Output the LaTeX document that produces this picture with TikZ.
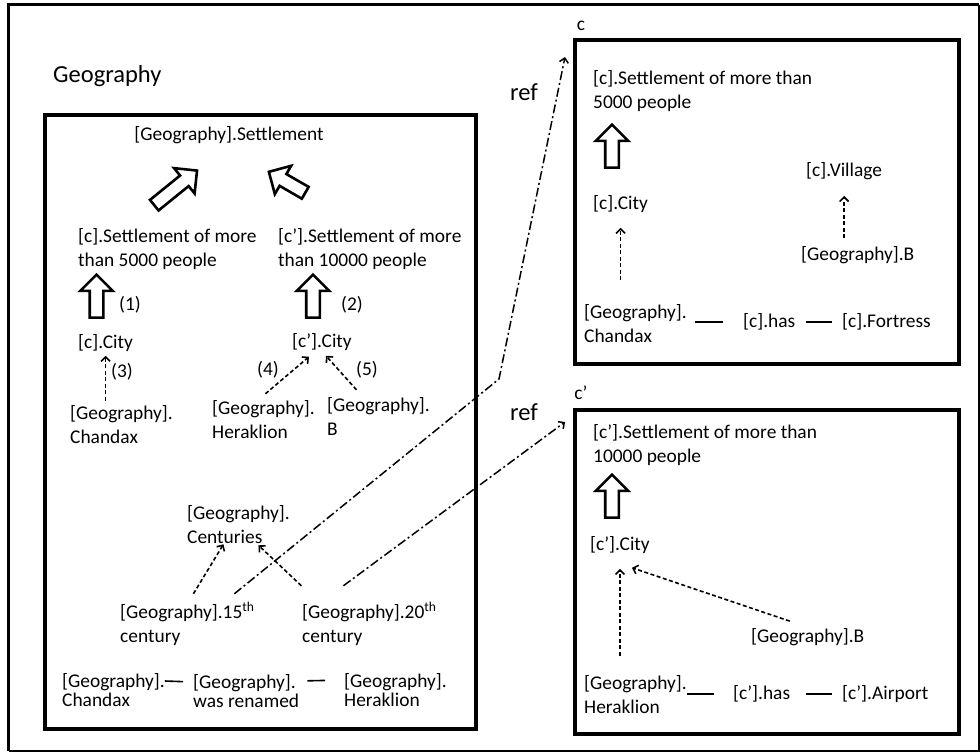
\documentclass[tikz,border=0pt]{standalone}
\usepackage{fontspec}
\setmainfont{Carlito}
\usetikzlibrary{arrows.meta,shapes.arrows}

\begin{document}
\begin{tikzpicture}[x=1pt,y=-1pt,>={Straight Barb[length=4.5pt,width=9pt]},
  txt/.style={anchor=west,align=left,inner sep=0pt,font=\fontsize{19.4pt}{24pt}\selectfont},
  tighttxt/.style={txt,font=\fontsize{19.4pt}{19.5pt}\selectfont},
  numtxt/.style={txt,anchor=center},
  biglabel/.style={anchor=west,inner sep=0pt,font=\fontsize{24.5pt}{29pt}\selectfont},
  boxframe/.style={draw,line width=3.5pt,anchor=north west,inner sep=0pt},
  fat/.style={single arrow,draw,line width=2.6pt,inner sep=0pt,inner ysep=5.5pt,
    single arrow head extend=9.5pt,single arrow tip angle=90,minimum height=#1},
  isaline/.style={->,line width=1.6pt,dash pattern=on 4pt off 2.5pt},
  reflink/.style={->,line width=1.5pt,dash pattern=on 9pt off 3pt on 2pt off 3pt},
  relline/.style={line width=1.6pt}]
  \useasboundingbox (0,0) rectangle (980,753);
  % outer frame
  \draw[line width=3pt] (8.5,751) -- (8.5,4.5) -- (979,4.5);
  \draw[line width=1.2pt] (979,4.5) -- (979,751) -- (8.5,751);

  % Geography
  \node[biglabel] (geolabel) at (53,76) {Geography};
  \node[boxframe,minimum width=431pt,minimum height=614pt] (geobox) at (43,113) {};
  \node[numtxt] (settle) at (229,135) {[Geography].Settlement};
  \node[fat=55pt,rotate=39] (upL) at (173,190) {};
  \node[fat=42pt,rotate=150] (upR) at (290,184) {};
  \node[txt] (csettle) at (78,249) {[c].Settlement of more\\than 5000 people};
  \node[txt] (cpsettle) at (278,249) {[c’].Settlement of more\\than 10000 people};
  \node[fat=43pt,rotate=90] (up1) at (96.5,299.5) {};
  \node[fat=43pt,rotate=90] (up2) at (313,299.5) {};
  \node[numtxt] (n1) at (130,305) {(1)};
  \node[numtxt] (n2) at (352,305) {(2)};
  \node[txt] (cityA) at (78,343) {[c].City};
  \node[txt] (cpcityA) at (292,342) {[c’].City};
  \node[numtxt] (n3) at (122,372) {(3)};
  \node[numtxt] (n4) at (268,370) {(4)};
  \node[numtxt] (n5) at (367,370) {(5)};
  \node[txt] (chandaxA) at (70,425) {[Geography].\\Chandax};
  \node[txt] (heraklionA) at (212,420) {[Geography].\\Heraklion};
  \node[txt] (bA) at (327,416) {[Geography].\\B};
  \node[txt] (centuries) at (187,525) {[Geography].\\Centuries};
  \node[txt] (cent15) at (120,624) {[Geography].15\textsuperscript{th}\\century};
  \node[txt] (cent20) at (302,624) {[Geography].20\textsuperscript{th}\\century};
  \node[tighttxt] (chandaxB) at (62,690) {[Geography].\\Chandax};
  \node[tighttxt] (renamed) at (193,691) {[Geography].\\was renamed};
  \node[tighttxt] (heraklionB) at (344,690) {[Geography].\\Heraklion};

  \draw[isaline,shorten <=5pt,shorten >=4pt] (chandaxA.north -| cityA.south) -- (cityA.south);
  \draw[isaline] ([xshift=2pt,yshift=7pt]heraklionA.north) -- ([xshift=-13pt,yshift=-6pt]cpcityA.south);
  \draw[isaline] ([xshift=-22pt,yshift=7pt]bA.north) -- ([xshift=4pt,yshift=-5pt]cpcityA.south);
  \draw[isaline] ([xshift=6pt,yshift=8pt]cent15.north) -- ([xshift=-15pt]centuries.south);
  \draw[isaline] ([xshift=-68pt,yshift=16pt]cent20.north) -- ([xshift=20pt,yshift=-1pt]centuries.south);
  \draw[relline,shorten >=10pt] ([yshift=9pt]chandaxB.east) -- ([yshift=9pt]renamed.west);
  \draw[relline,shorten <=8pt,shorten >=19pt] ([yshift=10pt]renamed.east) -- ([yshift=10pt]heraklionB.west);

  % c
  \node[txt,anchor=center] (clabel) at (581,26) {c};
  \node[boxframe,minimum width=384pt,minimum height=324pt] (cbox) at (573,38) {};
  \node[biglabel] (ref1) at (510,92) {ref};
  \node[txt] (csettleC) at (593,91) {[c].Settlement of more than\\5000 people};
  \node[fat=43pt,rotate=90] (upC) at (612,149.5) {};
  \node[txt] (cityC) at (593,204) {[c].City};
  \node[txt] (villageC) at (806,171) {[c].Village};
  \node[txt] (bC) at (801,255) {[Geography].B};
  \node[txt] (chandaxC) at (584,323.5) {[Geography].\\Chandax};
  \node[txt] (hasC) at (743,322) {[c].has};
  \node[txt] (fortressC) at (842,322) {[c].Fortress};

  \draw[isaline,shorten <=24pt,shorten >=15pt] (chandaxC.north -| cityC.south) -- (cityC.south);
  \draw[isaline,shorten <=8pt,shorten >=16pt] (bC.north -| villageC.south) -- (villageC.south);
  \draw[relline,shorten <=8pt,shorten >=20pt] (chandaxC.east |- hasC.west) -- (hasC.west);
  \draw[relline,shorten <=11pt,shorten >=10pt] (hasC.east) -- (fortressC.west);

  % c'
  \node[txt,anchor=center] (cplabel) at (581,393) {c’};
  \node[boxframe,minimum width=384pt,minimum height=324pt] (cpbox) at (573,408) {};
  \node[biglabel] (ref2) at (510,412) {ref};
  \node[txt] (cpsettleC) at (593,445) {[c’].Settlement of more than\\10000 people};
  \node[fat=43pt,rotate=90] (upCp) at (612,499.5) {};
  \node[txt] (cityCp) at (590,545) {[c’].City};
  \node[txt] (bCp) at (751,637) {[Geography].B};
  \node[txt] (heraklionC) at (584,695) {[Geography].\\Heraklion};
  \node[txt] (hasCp) at (733,694) {[c’].has};
  \node[txt] (airportCp) at (842,694) {[c’].Airport};

  \draw[isaline,shorten <=20pt,shorten >=15pt] (heraklionC.north -| cityCp.south) -- (cityCp.south);
  \draw[isaline] ([xshift=-18pt,yshift=7pt]bCp.north) -- ([xshift=12pt,yshift=-14pt]cityCp.south);
  \draw[relline,shorten >=19pt] (heraklionC.east |- hasCp.west) -- (hasCp.west);
  \draw[relline,shorten <=16pt,shorten >=10pt] (hasCp.east) -- (airportCp.west);

  % ref links
  \coordinate (bend) at (499,379);
  \coordinate (ctip) at (565,57);
  \coordinate (cptip) at (565,422);
  \draw[reflink] ([xshift=47pt,yshift=8pt]cent15.north) -- (bend) -- (ctip);
  \draw[reflink] ([xshift=-26pt,yshift=16pt]cent20.north) -- (cptip);
\end{tikzpicture}
\end{document}
